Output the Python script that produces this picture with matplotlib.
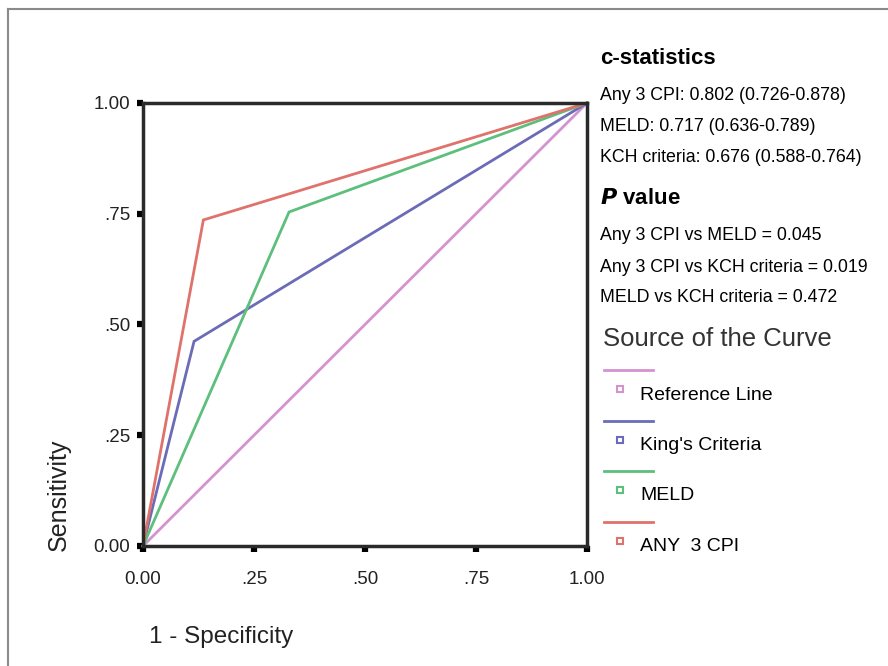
import matplotlib.pyplot as plt
from matplotlib.lines import Line2D

plt.rcParams['font.family'] = ['Liberation Sans', 'DejaVu Sans']

# ROC curves (1 - specificity, sensitivity)
ref_x = [0.0, 1.0]
ref_y = [0.0, 1.0]
kch_x = [0.0, 0.115, 1.0]
kch_y = [0.0, 0.462, 1.0]
meld_x = [0.0, 0.329, 1.0]
meld_y = [0.0, 0.754, 1.0]
cpi_x = [0.0, 0.136, 1.0]
cpi_y = [0.0, 0.736, 1.0]

ticks = [0.0, 0.25, 0.5, 0.75, 1.0]
tick_labels = ['0.00', '.25', '.50', '.75', '1.00']

series_names = ['Reference Line', "King's Criteria", 'MELD', 'ANY  3 CPI']
series_colors = ['#d493cf', '#6b6bb8', '#5cbf7c', '#df726b']

cstat_lines = ['Any 3 CPI: 0.802 (0.726-0.878)',
               'MELD: 0.717 (0.636-0.789)',
               'KCH criteria: 0.676 (0.588-0.764)']
pval_lines = ['Any 3 CPI vs MELD = 0.045',
              'Any 3 CPI vs KCH criteria = 0.019',
              'MELD vs KCH criteria = 0.472']

W, H = 888, 666
fig = plt.figure(figsize=(8.88, 6.66), dpi=100)
ax = fig.add_axes([143 / W, 1 - 546 / H, 444 / W, 443 / H])

for xs, ys, c in zip([ref_x, kch_x, meld_x, cpi_x], [ref_y, kch_y, meld_y, cpi_y], series_colors):
    ax.plot(xs, ys, color=c, lw=2.0, solid_joinstyle='miter', clip_on=False)

ax.set_xlim(0, 1)
ax.set_ylim(0, 1)
ax.set_xticks(ticks)
ax.set_xticklabels(tick_labels)
ax.set_yticks(ticks)
ax.set_yticklabels(tick_labels)
ax.tick_params(direction='out', length=4, width=4.5, color='black', labelsize=13.5, labelcolor='#222222')
ax.tick_params(axis='x', pad=14)
ax.tick_params(axis='y', pad=5)
for s in ax.spines.values():
    s.set_linewidth(2.5)
    s.set_color('#2a2a2a')

# axis titles
fig.text(59 / W, 1 - 495 / H, 'Sensitivity', rotation=90, ha='center', va='center', fontsize=18, color='#222222')
fig.text(149 / W, 1 - 637 / H, '1 - Specificity', ha='left', va='center', fontsize=17.5, color='#222222')

# c-statistics and P value annotations
fig.text(600 / W, 1 - 58 / H, 'c-statistics', ha='left', va='center', fontsize=16, fontweight='bold')
for i, t in enumerate(cstat_lines):
    fig.text(600 / W, 1 - (95 + 31.5 * i) / H, t, ha='left', va='center', fontsize=12.8)
fig.text(600 / W, 1 - 198 / H, r'$\bfit{P}$ value', ha='left', va='center', fontsize=16, fontweight='bold')
for i, t in enumerate(pval_lines):
    fig.text(600 / W, 1 - (236 + 31 * i) / H, t, ha='left', va='center', fontsize=12.8)

# legend
fig.text(603 / W, 1 - 339 / H, 'Source of the Curve', ha='left', va='center', fontsize=18.5, color='#333333')
for i, (name, c) in enumerate(zip(series_names, series_colors)):
    yl = 370 + 50.5 * i
    fig.add_artist(Line2D([604 / W, 653 / W], [1 - yl / H, 1 - yl / H], color=c, lw=2, transform=fig.transFigure))
    fig.add_artist(Line2D([620 / W], [1 - (yl + 19) / H], marker='s', markersize=5, markerfacecolor='white',
                          markeredgecolor=c, markeredgewidth=1.5, transform=fig.transFigure))
    fig.text(640 / W, 1 - (yl + 25) / H, name, ha='left', va='center', fontsize=14)

# outer frame lines (top and left only)
fig.add_artist(Line2D([8 / W, 1], [1 - 9 / H, 1 - 9 / H], color='#8a8a8a', lw=1.5, transform=fig.transFigure))
fig.add_artist(Line2D([8 / W, 8 / W], [0, 1 - 9 / H], color='#8a8a8a', lw=1.5, transform=fig.transFigure))

fig.savefig('out.png', dpi=100)
